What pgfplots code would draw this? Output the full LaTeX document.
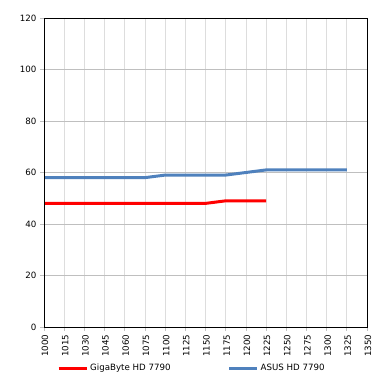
\documentclass[border=0pt]{standalone}
\usepackage{pgfplots}
\pgfplotsset{compat=1.18}
\usepackage{fontspec}
\setmainfont{DejaVu Sans}
\definecolor{exblue}{HTML}{4F81BD}
\definecolor{hgrid}{HTML}{BFBFBF}
\definecolor{vgrid}{HTML}{DDDDDD}
\begin{document}
\begin{tikzpicture}[x=1bp,y=1bp]
\path[use as bounding box] (0,0) rectangle (379,378);
\begin{axis}[
  at={(44bp,51bp)}, anchor=south west,
  scale only axis, width=323bp, height=309bp,
  xmin=0, xmax=16, ymin=0, ymax=120,
  xtick={0,...,16},
  xticklabels={1000,1015,1030,1045,1060,1075,1100,1125,1150,1175,1200,1225,1250,1275,1300,1325,1350},
  x tick label style={rotate=90, anchor=east},
  ytick={0,20,...,120},
  font=\fontsize{8.7}{10}\selectfont,
  /pgf/number format/assume math mode=true,
  tick align=outside, tick pos=left,
  major tick length=4bp,
  xmajorgrids, ymajorgrids,
  x grid style={vgrid, line width=0.7pt},
  y grid style={hgrid, line width=0.7pt},
  axis line style={black, line width=0.8pt},
  tick style={hgrid, line width=0.7pt},
  xticklabel style={yshift=-1bp},
  legend style={at={(0.458,-0.133)}, anchor=center, draw=none, fill=none, legend columns=2,
    font=\fontsize{8.7}{10}\selectfont, inner sep=0pt,
    /tikz/every even column/.append style={column sep=55bp}},
  legend image code/.code={\draw[#1, line width=3pt] (0bp,0bp) -- (28bp,0bp);},
]
\addplot[red, line width=3pt, mark=none] coordinates {
(0,48) (1,48) (2,48) (3,48) (4,48) (5,48) (6,48) (7,48) (8,48) (9,49) (10,49) (11,49)};
\addlegendentry{GigaByte HD 7790}
\addplot[exblue, line width=3pt, mark=none] coordinates {
(0,58) (1,58) (2,58) (3,58) (4,58) (5,58) (6,59) (7,59) (8,59) (9,59) (10,60) (11,61) (12,61) (13,61) (14,61) (15,61)};
\addlegendentry{ASUS HD 7790}
\draw[black, line width=0.8pt] (rel axis cs:0,0) rectangle (rel axis cs:1,1);
\end{axis}
\end{tikzpicture}
\end{document}
